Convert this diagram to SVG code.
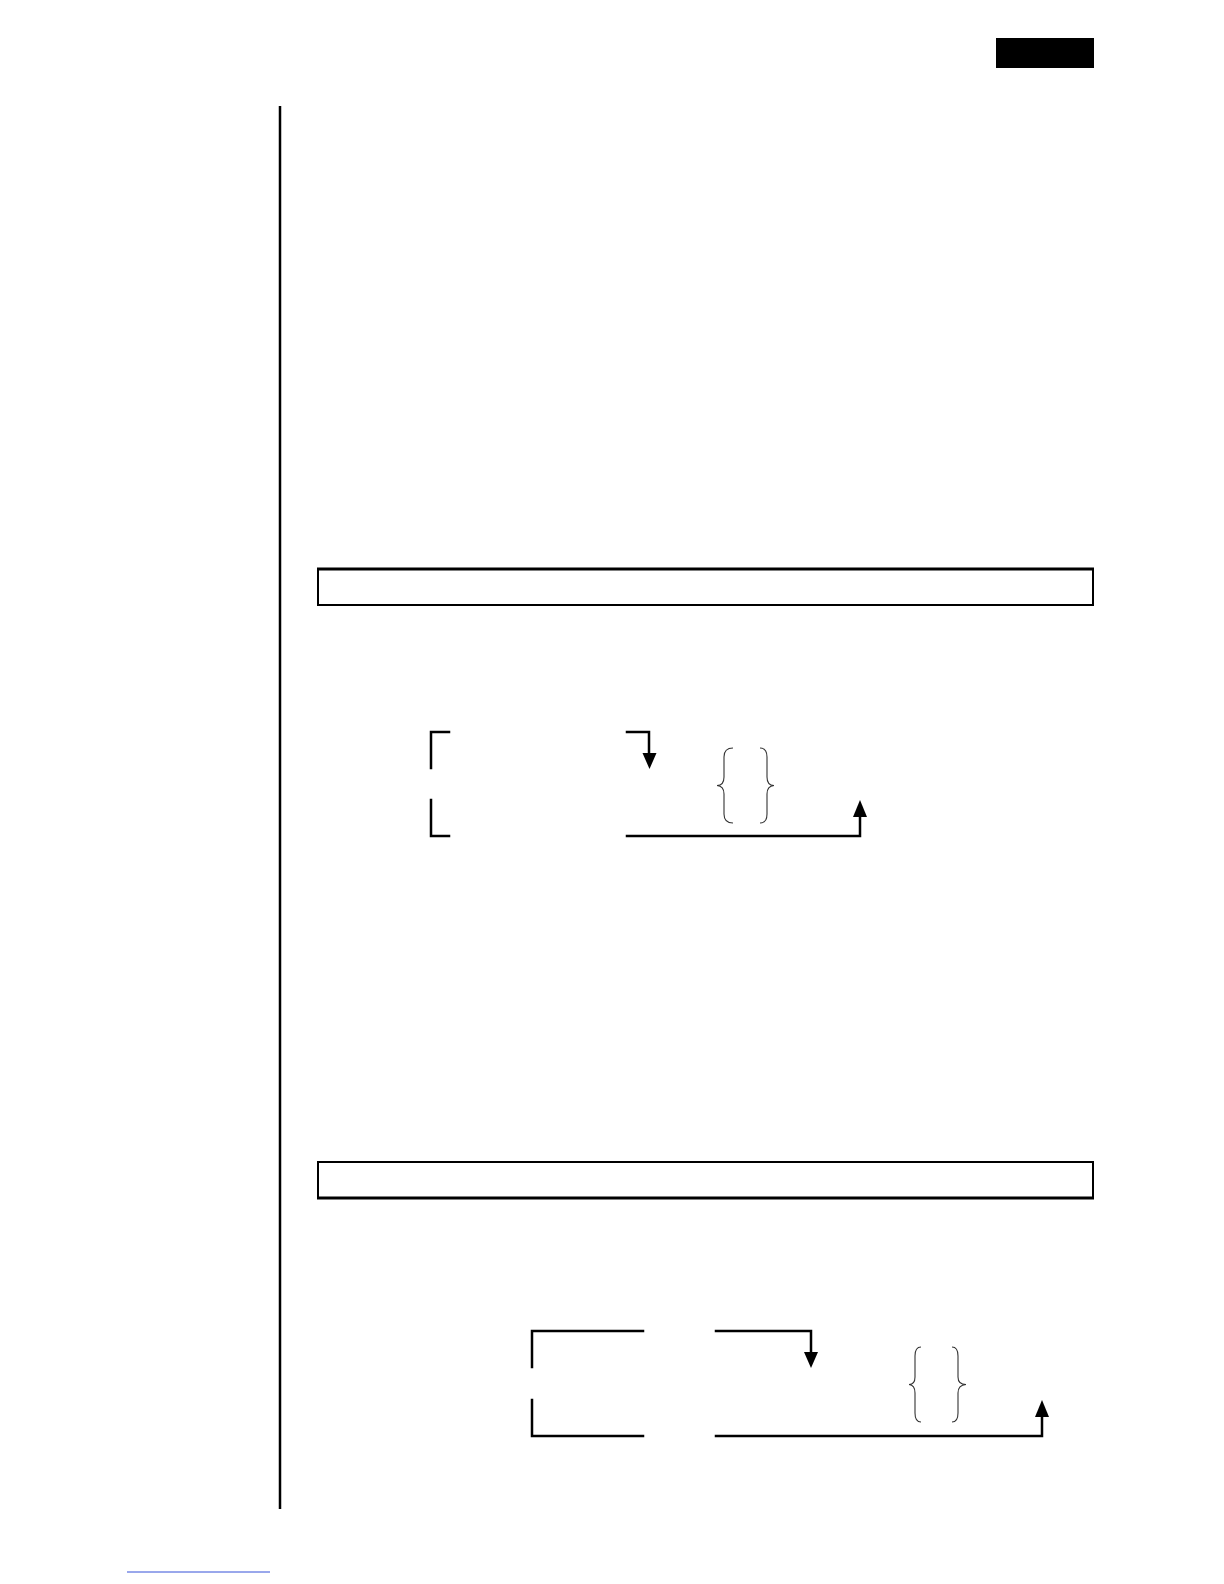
<svg xmlns="http://www.w3.org/2000/svg" width="1224" height="1584" viewBox="0 0 1224 1584">
<style>
.ln{fill:none;stroke:#000;stroke-width:2.5;stroke-linecap:square}
.br{fill:none;stroke:#333;stroke-width:1.1}
.box{fill:none;stroke:#000;stroke-width:2}
.ah{fill:#000}
</style>
<rect width="1224" height="1584" fill="#fff"/>
<rect id="tab" x="996" y="38" width="98" height="30" fill="#000"/>
<line id="margin" x1="280" y1="106" x2="280" y2="1509" stroke="#000" stroke-width="2.5"/>
<g id="box1">
<rect class="box" x="318" y="569" width="775" height="36"/>
<line x1="317" y1="569" x2="1094" y2="569" stroke="#000" stroke-width="3"/>
</g>
<g id="box2">
<rect class="box" x="318" y="1162" width="775" height="36"/>
<line x1="317" y1="1198" x2="1094" y2="1198" stroke="#000" stroke-width="3"/>
</g>
<g id="diagram1">
<path class="ln" d="M449,732 H431 V768"/>
<path class="ln" d="M431,800 V836 H449"/>
<path class="br" d="M733,748 Q724,748 724,757 V777 Q724,785.5 717,785.5 Q724,786 724,794 V814 Q724,823 733,823"/>
<path class="br" d="M760,748 Q767,748 767,757 V777 Q767,785.5 774,785.5 Q767,786 767,794 V814 Q767,823 760,823"/>
</g>
<g id="diagram2">
<path class="ln" d="M643,1331 H532 V1367"/>
<path class="ln" d="M532,1400 V1436 H643"/>
<path class="br" d="M921,1347 Q915,1347 915,1356 V1377 Q915,1384.5 909,1384.5 Q915,1385 915,1393 V1413 Q915,1422 921,1422"/>
<path class="br" d="M952,1347 Q958,1347 958,1356 V1377 Q958,1384.5 966,1384.5 Q958,1385 958,1393 V1413 Q958,1422 952,1422"/>
</g>
<g id="connectors">
<path class="ln" d="M627,732 H649 V754"/>
<polygon class="ah" points="642.5,753 656.5,753 649.5,769"/>
<path class="ln" d="M627,836 H860 V816"/>
<polygon class="ah" points="853,817 867,817 860,800"/>
<path class="ln" d="M716,1331 H811 V1353"/>
<polygon class="ah" points="804,1352 818,1352 811,1368"/>
<path class="ln" d="M716,1436 H1042 V1416"/>
<polygon class="ah" points="1035,1417 1049,1417 1042,1400"/>
</g>
<line id="link" x1="127" y1="1572" x2="270" y2="1572" stroke="#3550d8" stroke-width="1"/>
</svg>
